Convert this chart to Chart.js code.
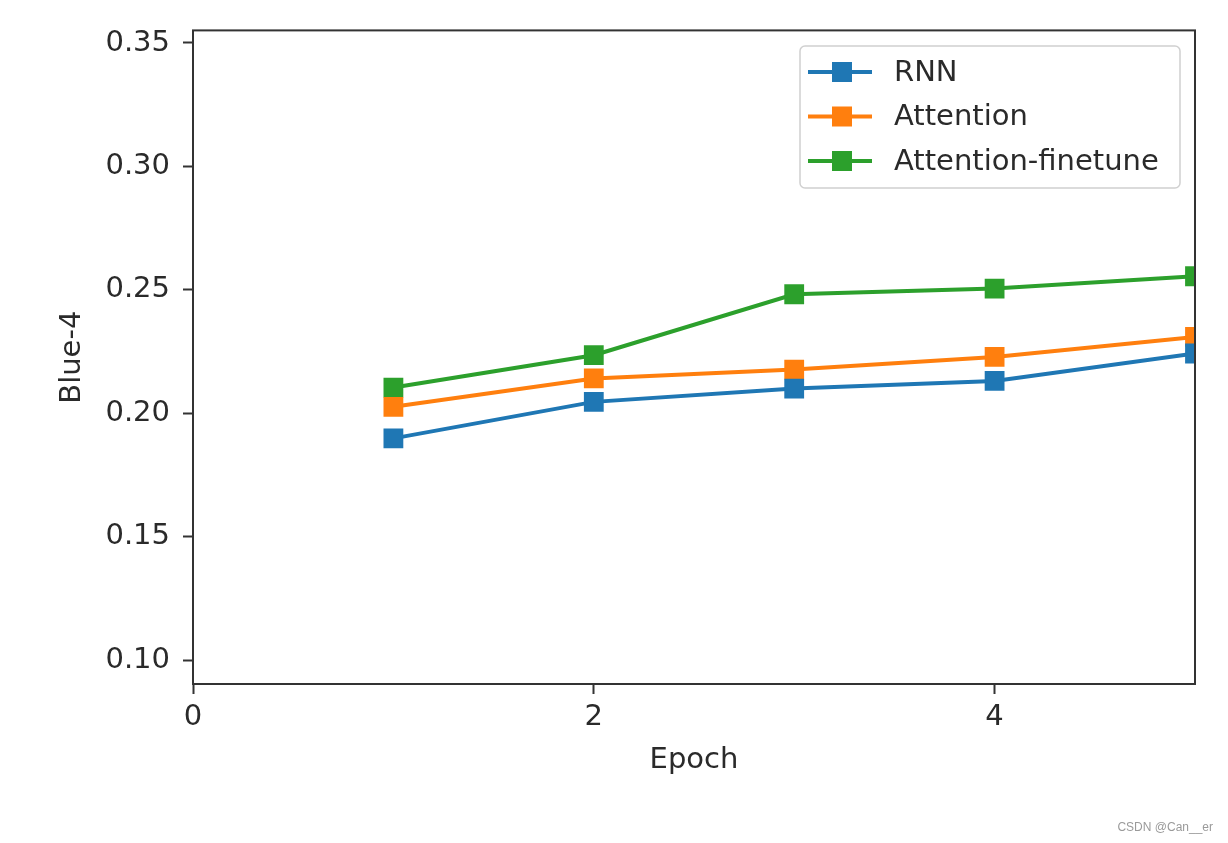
<!DOCTYPE html>
<html>
<head>
<meta charset="utf-8">
<script src="https://cdn.jsdelivr.net/npm/chart.js@4/dist/chart.umd.min.js"></script>
<style>
  html, body { margin: 0; padding: 0; background: #fff; }
  #wrap { width: 1228px; height: 843px; position: relative; }
</style>
</head>
<body>
<div id="wrap"><canvas id="c" width="1228" height="843"></canvas></div>
<script>
// ---- data ----
const epochs = [1, 2, 3, 4, 5];
const rnnValues = [0.1898, 0.2046, 0.2100, 0.2131, 0.2242];
const attentionValues = [0.2026, 0.2141, 0.2177, 0.2228, 0.2309];
const finetuneValues = [0.2104, 0.2235, 0.2482, 0.2505, 0.2555];
const seriesNames = ['RNN', 'Attention', 'Attention-finetune'];
const seriesColors = ['#1f77b4', '#ff7f0e', '#2ca02c'];
const xTickValues = [0, 2, 4];
const yTickValues = [0.10, 0.15, 0.20, 0.25, 0.30, 0.35];
const xTitle = 'Epoch';
const yTitle = 'Blue-4';
const watermark = 'CSDN @Can__er';

const FONT = "'DejaVu Sans', sans-serif";
const FS = 29;
const TXT = '#2a2a2a';
const SPINE = '#333333';

function toPoints(vals) { return epochs.map((e, i) => ({ x: e, y: vals[i] })); }

const allSeries = [rnnValues, attentionValues, finetuneValues];
const datasets = allSeries.map((vals, i) => ({
  label: seriesNames[i],
  data: toPoints(vals),
  borderColor: seriesColors[i],
  backgroundColor: seriesColors[i],
  borderWidth: 4,
  tension: 0,
  pointStyle: 'rect',
  pointRadius: 14,
  pointHoverRadius: 14,
  pointBorderWidth: 0,
  pointBackgroundColor: seriesColors[i],
  clip: 0
}));

const framePlugin = {
  id: 'frame',
  afterDatasetsDraw(chart) {
    const { ctx, chartArea: a } = chart;
    ctx.save();
    ctx.strokeStyle = SPINE;
    ctx.lineWidth = 2;
    ctx.strokeRect(a.left, a.top, a.right - a.left, a.bottom - a.top);
    ctx.restore();
  }
};

const legendPlugin = {
  id: 'customLegend',
  afterDraw(chart) {
    const { ctx } = chart;
    const bx = 800, by = 46, bw = 380, bh = 142;
    ctx.save();
    ctx.beginPath();
    ctx.roundRect(bx, by, bw, bh, 5);
    ctx.fillStyle = 'rgba(255,255,255,0.85)';
    ctx.fill();
    ctx.strokeStyle = '#d0d0d0';
    ctx.lineWidth = 1.5;
    ctx.stroke();
    chart.data.datasets.forEach((ds, i) => {
      const cy = 72 + i * 44.5;
      ctx.strokeStyle = ds.borderColor;
      ctx.lineWidth = 4;
      ctx.beginPath();
      ctx.moveTo(808, cy);
      ctx.lineTo(872, cy);
      ctx.stroke();
      ctx.fillStyle = ds.borderColor;
      ctx.fillRect(832, cy - 10, 20, 20);
      ctx.fillStyle = TXT;
      ctx.font = FS + 'px ' + FONT;
      ctx.textBaseline = 'middle';
      ctx.textAlign = 'left';
      ctx.fillText(ds.label, 894, cy + 1);
    });
    ctx.font = "12px 'Liberation Sans', Arial, sans-serif";
    ctx.fillStyle = '#9a9a9a';
    ctx.textAlign = 'right';
    ctx.textBaseline = 'middle';
    ctx.fillText(watermark, 1213, 828);
    ctx.restore();
  }
};

new Chart(document.getElementById('c'), {
  type: 'line',
  data: { datasets },
  options: {
    responsive: false,
    animation: false,
    events: [],
    layout: { padding: { left: 0, right: 33, top: 30, bottom: 0 } },
    plugins: { legend: { display: false }, tooltip: { enabled: false } },
    scales: {
      x: {
        type: 'linear',
        min: 0,
        max: 5,
        afterBuildTicks(scale) { scale.ticks = xTickValues.map(v => ({ value: v })); },
        afterFit(scale) { scale.height = 843 - 684; },
        border: { display: false },
        grid: { display: true, drawOnChartArea: false, drawTicks: true, tickLength: 10, tickWidth: 2, tickColor: SPINE },
        ticks: { color: TXT, font: { family: FONT, size: FS }, padding: 6, maxRotation: 0, callback: v => String(v) },
        title: { display: true, text: xTitle, color: TXT, font: { family: FONT, size: FS }, padding: { top: 0, bottom: 65 } }
      },
      y: {
        type: 'linear',
        min: 0.0903,
        max: 0.3551,
        afterBuildTicks(scale) { scale.ticks = yTickValues.map(v => ({ value: v })); },
        afterFit(scale) { scale.width = 193; },
        border: { display: false },
        grid: { display: true, drawOnChartArea: false, drawTicks: true, tickLength: 10, tickWidth: 2, tickColor: SPINE },
        ticks: { color: TXT, font: { family: FONT, size: FS }, padding: 13, callback: v => v.toFixed(2) },
        title: { display: true, text: yTitle, color: TXT, font: { family: FONT, size: FS }, padding: { top: 55, bottom: 0 } }
      }
    }
  },
  plugins: [framePlugin, legendPlugin]
});
</script>
</body>
</html>
